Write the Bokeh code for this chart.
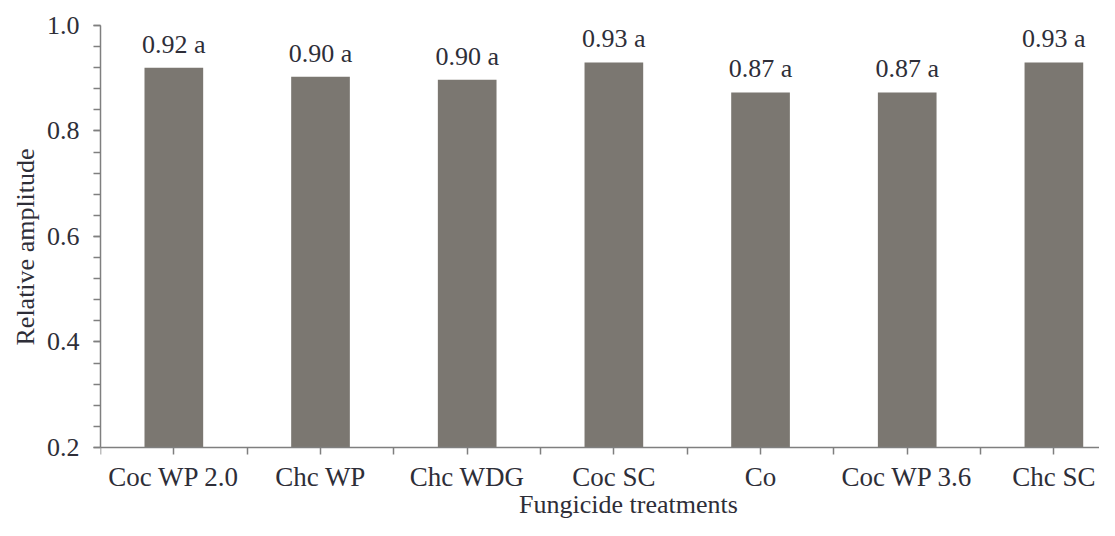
from bokeh.plotting import figure
from bokeh.models import (ColumnDataSource, Range1d, LabelSet, Label, Title, FixedTicker,
                          SingleIntervalTicker, PrintfTickFormatter)
from bokeh.embed import file_html
from bokeh.resources import INLINE

categories = ["Coc WP 2.0", "Chc WP", "Chc WDG", "Coc SC", "Co", "Coc WP 3.6", "Chc SC"]
values = [0.92, 0.903, 0.897, 0.93, 0.873, 0.873, 0.93]
labels = ["0.92 a", "0.90 a", "0.90 a", "0.93 a", "0.87 a", "0.87 a", "0.93 a"]
x_title = "Fungicide treatments"
y_title = "Relative amplitude"
y_min, y_max = 0.2, 1.0

FONT = "Liberation Serif"
TXT = "#2e2e38"
AX = "#7f7f7f"

xs = list(range(len(categories)))
src = ColumnDataSource(dict(x=xs, top=values, label=labels))

# frame spans the whole lower area so that the x axis (fixed at y_min) and its title can sit low
p = figure(width=1099, height=520, output_backend="svg", toolbar_location=None,
           x_range=Range1d(-0.5, 6.311), y_range=Range1d(0.0616, y_max),
           min_border_left=100, min_border_right=0, min_border_top=25, min_border_bottom=0)
p.outline_line_color = None
p.xgrid.visible = False
p.ygrid.visible = False
p.background_fill_color = "white"
p.border_fill_color = "white"

p.vbar(x="x", top="top", bottom=y_min, width=0.4, source=src,
       fill_color="#7b7771", line_color=None)

p.add_layout(LabelSet(x="x", y="top", text="label", source=src, text_align="center",
                      text_baseline="alphabetic", y_offset=15, text_font=FONT,
                      text_font_size="26px", text_color=TXT))

for ax in (p.xaxis[0], p.yaxis[0]):
    ax.axis_line_color = AX
    ax.axis_line_width = 1.5
    ax.major_tick_line_color = AX
    ax.minor_tick_line_color = AX
    ax.major_tick_line_width = 1.5
    ax.minor_tick_line_width = 1.5
    ax.major_tick_in = 0
    ax.minor_tick_in = 0
    ax.major_tick_out = 7
    ax.minor_tick_out = 7
    ax.major_label_text_font = FONT
    ax.major_label_text_font_size = "26px"
    ax.major_label_text_color = TXT

# x axis
p.xaxis.fixed_location = y_min
p.xaxis.ticker = FixedTicker(ticks=xs, minor_ticks=[i + 0.5 for i in range(-1, len(categories))])
p.xaxis.major_label_overrides = {i: c for i, c in enumerate(categories)}
p.xaxis.major_label_text_font_size = "27px"
p.xaxis.major_label_standoff = 8

p.add_layout(Label(x=528, y=16, x_units="screen", y_units="screen", text=x_title,
                   text_align="center", text_baseline="alphabetic", text_font=FONT,
                   text_font_size="26px", text_color=TXT))

# y axis
p.yaxis.bounds = (y_min, y_max)
p.yaxis.ticker = SingleIntervalTicker(interval=0.2, num_minor_ticks=5)
p.yaxis.formatter = PrintfTickFormatter(format="%.1f")
p.yaxis.major_label_standoff = 14

p.add_layout(Title(text=y_title, align="left", offset=175, standoff=8, text_font=FONT,
                   text_font_size="26px", text_font_style="normal", text_color=TXT), "left")

open("out.html", "w").write(file_html(p, INLINE))
